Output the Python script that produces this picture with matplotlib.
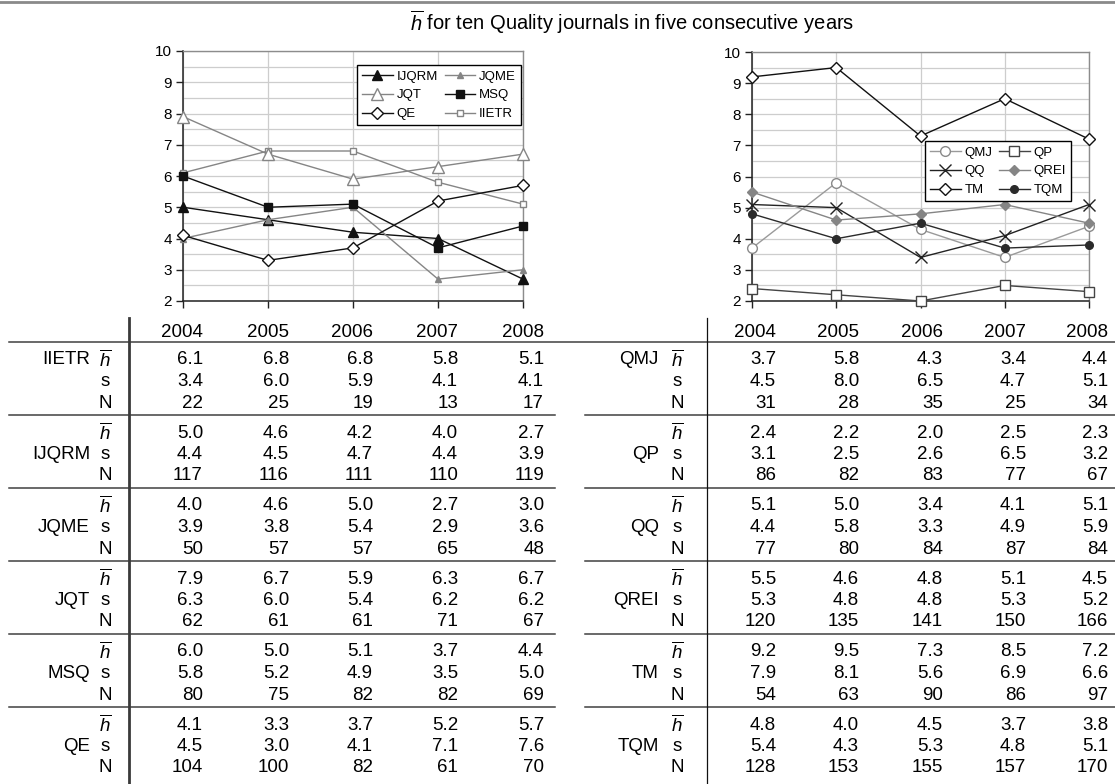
import matplotlib
matplotlib.use("Agg")
import matplotlib.pyplot as plt
from matplotlib.lines import Line2D
from matplotlib.ticker import MultipleLocator

plt.rcParams['font.family'] = ['Liberation Sans', 'DejaVu Sans']
plt.rcParams['mathtext.fontset'] = 'custom'
plt.rcParams['mathtext.rm'] = 'Liberation Sans'
plt.rcParams['mathtext.it'] = 'Liberation Sans:italic'

# ---------------------------------------------------------------- data
YEARS = ['2004', '2005', '2006', '2007', '2008']
LEFT_JOURNALS = ['IIETR', 'IJQRM', 'JQME', 'JQT', 'MSQ', 'QE']
RIGHT_JOURNALS = ['QMJ', 'QP', 'QQ', 'QREI', 'TM', 'TQM']

# mean h-index per journal and year
H_MEAN = {
    'IIETR': [6.1, 6.8, 6.8, 5.8, 5.1],
    'IJQRM': [5.0, 4.6, 4.2, 4.0, 2.7],
    'JQME':  [4.0, 4.6, 5.0, 2.7, 3.0],
    'JQT':   [7.9, 6.7, 5.9, 6.3, 6.7],
    'MSQ':   [6.0, 5.0, 5.1, 3.7, 4.4],
    'QE':    [4.1, 3.3, 3.7, 5.2, 5.7],
    'QMJ':   [3.7, 5.8, 4.3, 3.4, 4.4],
    'QP':    [2.4, 2.2, 2.0, 2.5, 2.3],
    'QQ':    [5.1, 5.0, 3.4, 4.1, 5.1],
    'QREI':  [5.5, 4.6, 4.8, 5.1, 4.5],
    'TM':    [9.2, 9.5, 7.3, 8.5, 7.2],
    'TQM':   [4.8, 4.0, 4.5, 3.7, 3.8],
}
# standard deviation
H_SD = {
    'IIETR': [3.4, 6.0, 5.9, 4.1, 4.1],
    'IJQRM': [4.4, 4.5, 4.7, 4.4, 3.9],
    'JQME':  [3.9, 3.8, 5.4, 2.9, 3.6],
    'JQT':   [6.3, 6.0, 5.4, 6.2, 6.2],
    'MSQ':   [5.8, 5.2, 4.9, 3.5, 5.0],
    'QE':    [4.5, 3.0, 4.1, 7.1, 7.6],
    'QMJ':   [4.5, 8.0, 6.5, 4.7, 5.1],
    'QP':    [3.1, 2.5, 2.6, 6.5, 3.2],
    'QQ':    [4.4, 5.8, 3.3, 4.9, 5.9],
    'QREI':  [5.3, 4.8, 4.8, 5.3, 5.2],
    'TM':    [7.9, 8.1, 5.6, 6.9, 6.6],
    'TQM':   [5.4, 4.3, 5.3, 4.8, 5.1],
}
# number of papers
N_PAPERS = {
    'IIETR': [22, 25, 19, 13, 17],
    'IJQRM': [117, 116, 111, 110, 119],
    'JQME':  [50, 57, 57, 65, 48],
    'JQT':   [62, 61, 61, 71, 67],
    'MSQ':   [80, 75, 82, 82, 69],
    'QE':    [104, 100, 82, 61, 70],
    'QMJ':   [31, 28, 35, 25, 34],
    'QP':    [86, 82, 83, 77, 67],
    'QQ':    [77, 80, 84, 87, 84],
    'QREI':  [120, 135, 141, 150, 166],
    'TM':    [54, 63, 90, 86, 97],
    'TQM':   [128, 153, 155, 157, 170],
}
LEFT_LEGEND_ORDER = ['IJQRM', 'JQT', 'QE', 'JQME', 'MSQ', 'IIETR']
RIGHT_LEGEND_ORDER = ['QMJ', 'QQ', 'TM', 'QP', 'QREI', 'TQM']
HBAR = r'$\overline{h}$'

# ---------------------------------------------------------------- styles
BLACK = '#111111'
GREY = '#858585'
STYLE = {
    'IJQRM': dict(color=BLACK, marker='^', ms=6.5, mfc=BLACK, mec=BLACK),
    'JQME':  dict(color=GREY, marker='^', ms=4.5, mfc=GREY, mec=GREY),
    'JQT':   dict(color=GREY, marker='^', ms=8.5, mfc='white', mec=GREY),
    'MSQ':   dict(color=BLACK, marker='s', ms=5.5, mfc=BLACK, mec=BLACK),
    'QE':    dict(color=BLACK, marker='D', ms=6.5, mfc='white', mec=BLACK),
    'IIETR': dict(color=GREY, marker='s', ms=3.8, mfc='white', mec=GREY),
    'QMJ':   dict(color='#9a9a9a', marker='o', ms=7, mfc='white', mec='#8a8a8a'),
    'QP':    dict(color='#444444', marker='s', ms=7, mfc='white', mec='#444444'),
    'QQ':    dict(color='#222222', marker='x', ms=8, mfc='none', mec='#222222', mew=1.0),
    'QREI':  dict(color=GREY, marker='D', ms=4.8, mfc=GREY, mec=GREY),
    'TM':    dict(color=BLACK, marker='D', ms=5.8, mfc='white', mec=BLACK),
    'TQM':   dict(color='#2a2a2a', marker='o', ms=5.5, mfc='#2a2a2a', mec='#2a2a2a'),
}

W, H = 1115, 784
fig = plt.figure(figsize=(W / 100, H / 100), dpi=100)
fig.patch.set_facecolor('white')


def fx(x):
    return x / W


def fy(y):
    return 1 - y / H


def hline(x0, x1, y, **kw):
    fig.add_artist(Line2D([fx(x0), fx(x1)], [fy(y), fy(y)],
                          transform=fig.transFigure, **kw))


def vline(x, y0, y1, **kw):
    fig.add_artist(Line2D([fx(x), fx(x)], [fy(y0), fy(y1)],
                          transform=fig.transFigure, **kw))


# thin rule along the top of the page
hline(0, W, 2, color='#8a8a8a', lw=2.0)

fig.text(fx(632), fy(22), HBAR + ' for ten Quality journals in five consecutive years',
         ha='center', va='center', fontsize=14.5)


def make_chart(rect_px, journals, legend_order, legend_box):
    x0, y0, x1, y1 = rect_px
    ax = fig.add_axes([fx(x0), fy(y1), (x1 - x0) / W, (y1 - y0) / H])
    xs = list(range(len(YEARS)))
    handles = {}
    for j in journals:
        (ln,) = ax.plot(xs, H_MEAN[j], lw=1.0, clip_on=False, zorder=3, label=j, **STYLE[j])
        handles[j] = ln
    ax.set_xlim(0, len(YEARS) - 1)
    ax.set_ylim(2, 10)
    ax.set_xticks(xs)
    ax.set_xticklabels([])
    ax.yaxis.set_major_locator(MultipleLocator(1))
    ax.yaxis.set_minor_locator(MultipleLocator(0.5))
    ax.grid(True, which='both', axis='y', color='#cdcdcd', lw=0.9)
    ax.grid(True, which='major', axis='x', color='#cdcdcd', lw=0.9)
    ax.set_axisbelow(True)
    ax.tick_params(axis='both', which='major', direction='out', length=5,
                   width=1.0, color='#222222', labelsize=11, pad=3)
    ax.tick_params(axis='y', which='minor', length=0)
    for side in ('left', 'bottom'):
        ax.spines[side].set_color('#222222')
        ax.spines[side].set_linewidth(1.1)
    for side in ('top', 'right'):
        ax.spines[side].set_color('#8c8c8c')
        ax.spines[side].set_linewidth(1.0)
    bx, by = legend_box
    leg = ax.legend([handles[j] for j in legend_order], legend_order, ncol=2,
                    loc='upper left', bbox_to_anchor=(fx(bx), fy(by)),
                    bbox_transform=fig.transFigure, fontsize=9.5,
                    fancybox=False, framealpha=1, edgecolor='black',
                    handlelength=2.3, handletextpad=0.3, columnspacing=0.5,
                    borderpad=0.4, labelspacing=0.5, borderaxespad=0)
    leg.get_frame().set_linewidth(1.0)
    leg.set_zorder(10)
    return ax


make_chart((183, 51, 523, 301), LEFT_JOURNALS, LEFT_LEGEND_ORDER, (357, 65))
make_chart((752, 52, 1089, 301), RIGHT_JOURNALS, RIGHT_LEGEND_ORDER, (925, 141))

# ---------------------------------------------------------------- tables
TABLE_FS = 13.5
HEADER_Y = 332
FIRST_RULE = 342
BLOCK = 73
ROW_OFFSETS = [18, 39.5, 61]
RULE_COLOR = '#404040'


def fmt(v):
    return f'{v:.1f}'


def draw_table(journals, col_right, name_right, stat_x, rule_x0, rule_x1):
    for yr, xr in zip(YEARS, col_right):
        fig.text(fx(xr), fy(HEADER_Y), yr, ha='right', va='center', fontsize=TABLE_FS)
    for k, j in enumerate(journals):
        top = FIRST_RULE + k * BLOCK
        if k > 0:
            hline(rule_x0, rule_x1, top, color=RULE_COLOR, lw=1.1)
        rows = [(HBAR, [fmt(v) for v in H_MEAN[j]]),
                ('s', [fmt(v) for v in H_SD[j]]),
                ('N', [str(v) for v in N_PAPERS[j]])]
        name_row = 0 if k == 0 else 1
        for r, (lab, vals) in enumerate(rows):
            y = top + ROW_OFFSETS[r]
            fig.text(fx(stat_x), fy(y), lab, ha='center', va='center', fontsize=TABLE_FS)
            for v, xr in zip(vals, col_right):
                fig.text(fx(xr), fy(y), v, ha='right', va='center', fontsize=TABLE_FS)
            if r == name_row:
                fig.text(fx(name_right), fy(y), j, ha='right', va='center', fontsize=TABLE_FS)


hline(9, W, FIRST_RULE, color=RULE_COLOR, lw=1.1)
draw_table(LEFT_JOURNALS, [203, 289, 373, 458, 544], 90, 105, 9, 555)
draw_table(RIGHT_JOURNALS, [776, 859, 943, 1026, 1108], 659, 677, 585, W)
vline(129, 318, H, color='#3a3a3a', lw=2.0)
vline(707, 318, H, color='#111111', lw=0.9)

fig.savefig('out.png', dpi=100, facecolor='white')
